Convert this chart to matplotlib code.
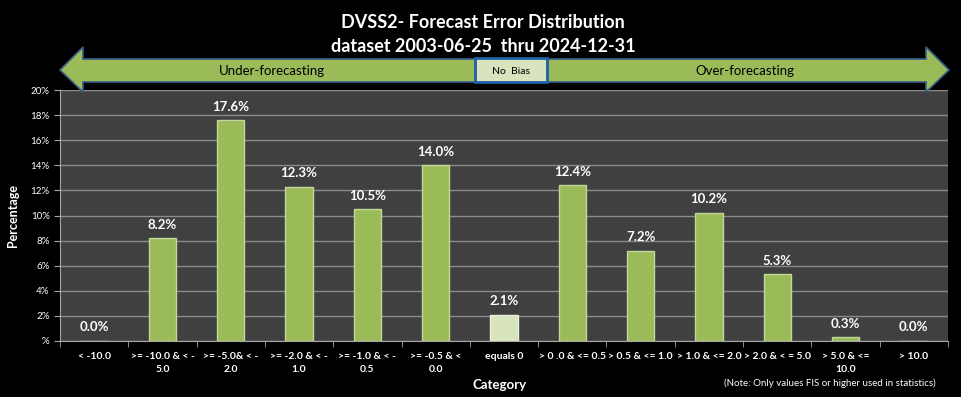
import numpy as np
import matplotlib.pyplot as plt
from matplotlib.patches import Polygon, Rectangle

categories = ["< -10.0", ">= -10.0 & < -\n5.0", ">= -5.0& < -\n2.0", ">= -2.0 & < -\n1.0",
              ">= -1.0 & < -\n0.5", ">= -0.5 & <\n0.0", "equals 0", "> 0 .0 & <= 0.5",
              "> 0.5 & <= 1.0", "> 1.0 & <= 2.0", "> 2.0 & < = 5.0", "> 5.0 & <=\n10.0", "> 10.0"]
values = [0.0, 8.2, 17.6, 12.3, 10.5, 14.0, 2.1, 12.4, 7.2, 10.2, 5.3, 0.3, 0.0]
yticks = [0, 2, 4, 6, 8, 10, 12, 14, 16, 18, 20]
ytick_labels = ["%"] + [f"{t}%" for t in yticks[1:]]

plt.rcParams['font.family'] = ['Lato', 'DejaVu Sans']

fig = plt.figure(figsize=(9.61, 3.97), dpi=100, facecolor='black')
ax = fig.add_axes([60 / 961, 1 - 341 / 397, 888 / 961, 251 / 397])
ax.set_facecolor('#404040')

x = np.arange(len(categories))
colors = ['#D7E4BD' if c == "equals 0" else '#9BBB59' for c in categories]
edges = ['#EBF1DE' if c == "equals 0" else '#C3D69B' for c in categories]
ax.bar(x, values, width=0.4, color=colors, edgecolor=edges, linewidth=1.0, zorder=3)

for xi, v in zip(x, values):
    ax.text(xi, v + 0.6, f"{v:.1f}%", ha='center', va='bottom', color='white',
            fontsize=9.5, fontweight='bold', zorder=4)

ax.set_xlim(-0.5, len(categories) - 0.5)
ax.set_ylim(0, 20)
ax.set_yticks(yticks)
ax.set_yticklabels(ytick_labels)
ax.yaxis.grid(True, color='#8C8C8C', linewidth=1.0, zorder=0)
ax.set_xticks(np.arange(len(categories) + 1) - 0.5, minor=True)
ax.set_xticks(x)
ax.set_xticklabels(categories, fontsize=7.5, color='white', fontweight='bold', linespacing=1.5)
ax.tick_params(axis='x', which='major', length=0, pad=8)
ax.tick_params(axis='x', which='minor', length=4, color='#A6A6A6', direction='out')
ax.tick_params(axis='y', labelsize=7, colors='white', length=4, color='#A6A6A6')
for side in ['top', 'right']:
    ax.spines[side].set_visible(False)
ax.spines['left'].set_color('#A6A6A6')
ax.spines['bottom'].set_color('#A6A6A6')

ax.set_ylabel("Percentage", color='white', fontsize=9, fontweight='bold', labelpad=8)
fig.text(500 / 961, 1 - 385 / 397, "Category", color='white', fontsize=9.5,
         fontweight='bold', ha='center', va='center')
fig.text(936 / 961, 1 - 383 / 397, "(Note: Only values FIS or higher used in statistics)",
         color='white', fontsize=7, ha='right', va='center')

fig.text(483 / 961, 1 - 22 / 397, "DVSS2- Forecast Error Distribution", color='white',
         fontsize=13, fontweight='bold', ha='center', va='center')
fig.text(483 / 961, 1 - 47 / 397, "dataset 2003-06-25  thru 2024-12-31", color='white',
         fontsize=13, fontweight='bold', ha='center', va='center')

# double-headed banner arrow in pixel coordinates
def px(xp, yp):
    return (xp / 961, 1 - yp / 397)

arrow_pts = [px(60, 70), px(83, 47), px(83, 59), px(926, 59), px(926, 47), px(949, 70),
             px(926, 92), px(926, 82), px(83, 82), px(83, 92)]
fig.patches.append(Polygon(arrow_pts, closed=True, facecolor='#9BBB59', edgecolor='#385D8A',
                           linewidth=1.2, transform=fig.transFigure, zorder=1))
x0, y0 = px(475, 82)
x1, y1 = px(547, 58)
fig.patches.append(Rectangle((x0, y0), x1 - x0, y1 - y0, facecolor='#D7E4BD', edgecolor='#1F5FA8',
                             linewidth=2, transform=fig.transFigure, zorder=2))
fig.text(511 / 961, 1 - 71 / 397, "No  Bias", color='black', fontsize=7.5, ha='center', va='center')
fig.text(272 / 961, 1 - 71 / 397, "Under-forecasting", color='black', fontsize=9.5, ha='center', va='center')
fig.text(745 / 961, 1 - 71 / 397, "Over-forecasting", color='black', fontsize=9.5, ha='center', va='center')

fig.savefig('out.png', dpi=100, facecolor='black')
